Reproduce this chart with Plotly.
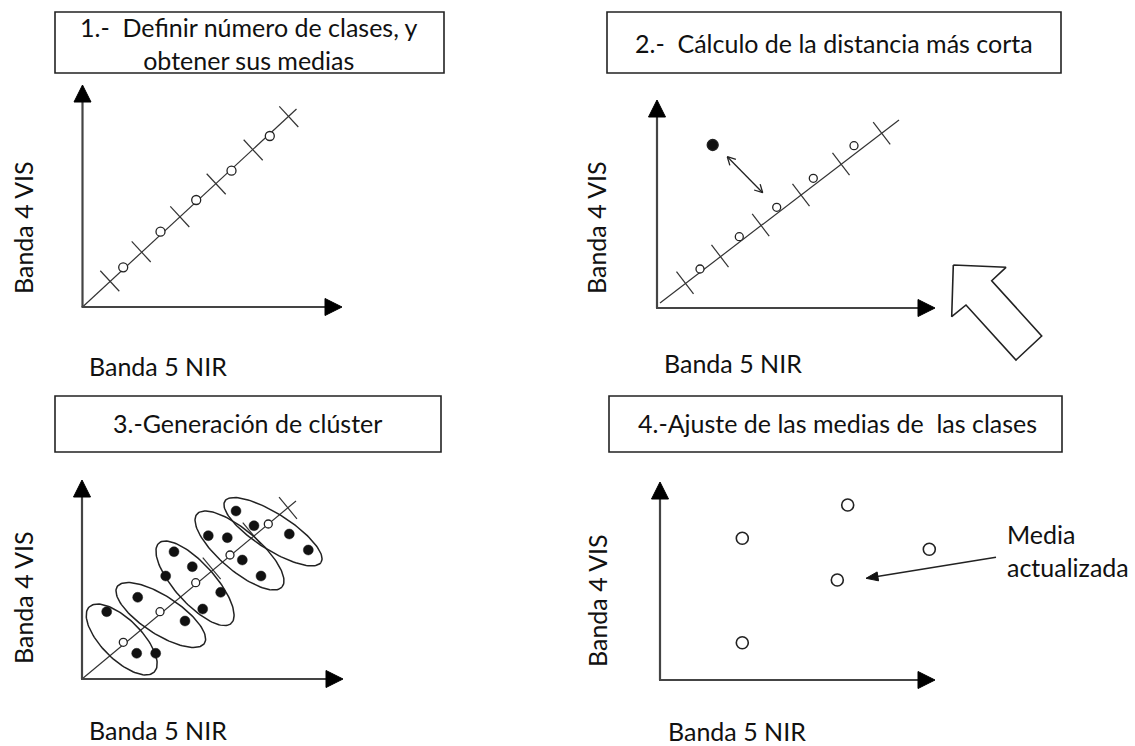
import math
import plotly.graph_objects as go

# ---------------- data (local units: x right, y up, measured from each panel's axis origin) ----
# Panel 1: diagonal, class boundaries (crosses) and class means (o)
p1_line_x = [0.0, 214.0]
p1_line_y = [0.0, 198.0]
p1_bound_x = [27.3, 58.7, 97.3, 133.7, 170.7, 206.3]
p1_bound_y = [26.0, 55.3, 90.3, 123.0, 157.0, 190.3]
p1_mean_x = [40.7, 78.0, 113.7, 149.0, 187.3]
p1_mean_y = [39.7, 75.3, 107.0, 136.3, 171.0]

# Panel 2: same, plus a pixel and its shortest distance
p2_line_x = [3.0, 242.0]
p2_line_y = [5.0, 188.0]
p2_bound_x = [28.0, 63.0, 103.7, 144.0, 184.0, 224.7]
p2_bound_y = [25.3, 52.0, 83.0, 113.0, 144.0, 174.7]
p2_mean_x = [43.0, 82.3, 119.7, 156.3, 197.0]
p2_mean_y = [39.0, 71.3, 100.7, 129.7, 162.3]
p2_pixel_x = [55.7]
p2_pixel_y = [163.0]
p2_dist_x = [70.3, 105.7]
p2_dist_y = [151.3, 115.3]
p2_bigarrow_x = [296.3, 349.0, 334.7, 384.7, 359.0, 309.0, 294.7, 296.3]
p2_bigarrow_y = [43.0, 40.7, 27.3, -28.0, -52.0, 3.0, -8.7, 43.0]

# Panel 3: clusters
p3_line_x = [0.0, 214.0]
p3_line_y = [0.0, 178.0]
p3_bound_x = [129.7, 169.7, 206.0]
p3_bound_y = [110.7, 145.7, 171.0]
p3_mean_x = [41.3, 78.0, 113.7, 148.0, 186.3]
p3_mean_y = [36.7, 67.3, 96.3, 124.0, 155.0]
p3_pix_x = [24.7, 55.7, 54.7, 73.7, 92.0, 110.3, 83.7, 138.7, 120.7, 103.0,
            126.3, 145.3, 172.0, 154.0, 207.3, 226.3, 160.3, 179.0]
p3_pix_y = [67.3, 81.7, 25.7, 25.7, 127.3, 112.3, 103.0, 86.7, 70.0, 58.0,
            143.3, 141.3, 153.3, 168.0, 145.0, 129.0, 119.0, 103.0]
p3_clu_cx = [39.7, 78.8, 113.0, 157.5, 191.0]
p3_clu_cy = [39.5, 64.0, 95.7, 128.5, 147.3]
p3_clu_a = [46.0, 52.0, 54.0, 56.0, 57.0]
p3_clu_b = [20.0, 19.0, 20.0, 20.0, 18.0]
p3_clu_ang = [-45.0, -33.0, -48.0, -40.6, -32.5]

# Panel 4: updated means
p4_mean_x = [82.3, 187.7, 269.3, 177.3, 82.3]
p4_mean_y = [141.7, 175.0, 130.7, 100.0, 37.3]
p4_note_x = [336.0, 206.0]
p4_note_y = [122.7, 101.7]

# ---------------- layout constants ----------------
W, H = 1135, 746
FONT = "Lato"
TXT = "#111111"
LINE = "#333333"
origins = {1: (82.5, 307.0), 2: (657.0, 308.0), 3: (82.0, 679.0), 4: (660.0, 680.0)}
axis_len = {1: (259.5, 222.0), 2: (278.0, 208.0), 3: (261.0, 199.0), 4: (275.0, 198.0)}


def to_scr(p, xs, ys):
    ox, oy = origins[p]
    X = [None if x is None else ox + x for x in xs]
    Y = [None if y is None else oy - y for y in ys]
    return X, Y


fig = go.Figure()
shapes = []
annotations = []


def add_line(p, xs, ys, color=LINE, width=1.2, fill=None, fillcolor=None):
    X, Y = to_scr(p, xs, ys)
    fig.add_trace(go.Scatter(x=X, y=Y, mode="lines", line=dict(color=color, width=width),
                             fill=fill, fillcolor=fillcolor, hoverinfo="skip"))


def add_markers(p, xs, ys, size, filled, lw=1.3):
    X, Y = to_scr(p, xs, ys)
    fig.add_trace(go.Scatter(
        x=X, y=Y, mode="markers", hoverinfo="skip",
        marker=dict(symbol="circle", size=size,
                    color="#111111" if filled else "white",
                    line=dict(color="#222222", width=lw))))


def add_ticks(p, lx, ly, bx, by, half=14.0):
    dx, dy = lx[1] - lx[0], ly[1] - ly[0]
    n = math.hypot(dx, dy)
    px, py = -dy / n, dx / n
    xs, ys = [], []
    for cx, cy in zip(bx, by):
        xs += [cx - px * half, cx + px * half, None]
        ys += [cy - py * half, cy + py * half, None]
    add_line(p, xs, ys, width=1.2)


def axis_arrows(p):
    ox, oy = origins[p]
    lx, ly = axis_len[p]
    hl, hw = 17.0, 8.5
    shapes.append(dict(type="line", xref="x", yref="y", x0=ox, y0=oy, x1=ox, y1=oy - ly + hl - 1,
                       line=dict(color="#444444", width=2.2)))
    shapes.append(dict(type="line", xref="x", yref="y", x0=ox - 1, y0=oy, x1=ox + lx - hl + 1, y1=oy,
                       line=dict(color="#444444", width=2.2)))
    ty = oy - ly
    shapes.append(dict(type="path", xref="x", yref="y",
                       path=f"M {ox} {ty} L {ox - hw} {ty + hl} L {ox + hw} {ty + hl} Z",
                       fillcolor="black", line=dict(color="black", width=1)))
    tx = ox + lx
    shapes.append(dict(type="path", xref="x", yref="y",
                       path=f"M {tx} {oy} L {tx - hl} {oy - hw} L {tx - hl} {oy + hw} Z",
                       fillcolor="black", line=dict(color="black", width=1)))


def open_head(p, x0, y0, x1, y1, L=9.0, ang=28.0):
    # V-shaped head at (x1, y1) for a segment coming from (x0, y0)
    a = math.atan2(y1 - y0, x1 - x0)
    xs, ys = [], []
    for s in (1, -1):
        b = a + math.pi - s * math.radians(ang)
        xs += [x1 + L * math.cos(b), x1, None]
        ys += [y1 + L * math.sin(b), y1, None]
    add_line(p, xs, ys, color="#222222", width=1.3)


# ---- panel 1
axis_arrows(1)
add_line(1, p1_line_x, p1_line_y)
add_ticks(1, p1_line_x, p1_line_y, p1_bound_x, p1_bound_y)
add_markers(1, p1_mean_x, p1_mean_y, 9, False)

# ---- panel 2
axis_arrows(2)
add_line(2, p2_line_x, p2_line_y)
add_ticks(2, p2_line_x, p2_line_y, p2_bound_x, p2_bound_y)
add_markers(2, p2_mean_x, p2_mean_y, 8, False)
add_markers(2, p2_pixel_x, p2_pixel_y, 11, True)
add_line(2, p2_dist_x, p2_dist_y, color="#222222", width=1.3)
open_head(2, p2_dist_x[1], p2_dist_y[1], p2_dist_x[0], p2_dist_y[0])
open_head(2, p2_dist_x[0], p2_dist_y[0], p2_dist_x[1], p2_dist_y[1])
add_line(2, p2_bigarrow_x, p2_bigarrow_y, color="#222222", width=1.6, fill="toself", fillcolor="white")

# ---- panel 3
axis_arrows(3)
add_line(3, p3_line_x, p3_line_y)
add_ticks(3, p3_line_x, p3_line_y, p3_bound_x, p3_bound_y)
for cx, cy, a, b, ang in zip(p3_clu_cx, p3_clu_cy, p3_clu_a, p3_clu_b, p3_clu_ang):
    r = math.radians(ang)
    ex, ey = [], []
    for k in range(121):
        t = 2 * math.pi * k / 120
        u, v = a * math.cos(t), b * math.sin(t)
        ex.append(cx + u * math.cos(r) - v * math.sin(r))
        ey.append(cy + u * math.sin(r) + v * math.cos(r))
    add_line(3, ex, ey, color="#222222", width=1.5)
add_markers(3, p3_pix_x, p3_pix_y, 10, True, lw=0.5)
add_markers(3, p3_mean_x, p3_mean_y, 8, False)

# ---- panel 4
axis_arrows(4)
add_markers(4, p4_mean_x, p4_mean_y, 12, False, lw=1.6)
add_line(4, [p4_note_x[0], p4_note_x[1] + 8], [p4_note_y[0], p4_note_y[1] + 8 * (p4_note_y[0] - p4_note_y[1]) / (p4_note_x[0] - p4_note_x[1])],
         color="#222222", width=1.4)
# filled arrow head
X, Y = to_scr(4, p4_note_x, p4_note_y)
ang = math.atan2(Y[1] - Y[0], X[1] - X[0])
hl, hw = 12.0, 4.5
bx, by = X[1] - hl * math.cos(ang), Y[1] - hl * math.sin(ang)
nx, ny = -math.sin(ang), math.cos(ang)
shapes.append(dict(type="path", xref="x", yref="y",
                   path=f"M {X[1]} {Y[1]} L {bx + nx * hw} {by + ny * hw} L {bx - nx * hw} {by - ny * hw} Z",
                   fillcolor="#111111", line=dict(color="#111111", width=1)))

# ---------------- boxes & text ----------------
boxes = [(55, 12, 444, 73), (607, 12, 1061, 73), (55, 396, 441, 452), (609, 396, 1062, 452)]
for x0, y0, x1, y1 in boxes:
    shapes.append(dict(type="rect", xref="x", yref="y", x0=x0, y0=y0, x1=x1, y1=y1,
                       line=dict(color="#222222", width=1.6), fillcolor="rgba(0,0,0,0)"))

NB = "\u00a0"
titles = [
    (249, 43, f"1.-{NB} Definir número de clases, y<br>obtener sus medias"),
    (834, 43, f"2.-{NB} Cálculo de la distancia más corta"),
    (247, 423, "3.-Generación de clúster"),
    (837, 423, f"4.-Ajuste de las medias de{NB} las clases"),
]
FS = 25
for x, y, t in titles:
    annotations.append(dict(x=x, y=y, xref="x", yref="y", text=t, showarrow=False,
                            font=dict(family=FONT, size=FS, color=TXT), align="center",
                            xanchor="center", yanchor="middle"))

ylabels = [(23, 228), (596, 228), (23, 598), (597, 601)]
for x, y in ylabels:
    annotations.append(dict(x=x, y=y, xref="x", yref="y", text="Banda 4 VIS", showarrow=False,
                            textangle=-90, font=dict(family=FONT, size=FS, color=TXT),
                            xanchor="center", yanchor="middle"))
xlabels = [(157.5, 366), (733, 363), (157.5, 730), (737, 731)]
for x, y in xlabels:
    annotations.append(dict(x=x, y=y, xref="x", yref="y", text="Banda 5 NIR", showarrow=False,
                            font=dict(family=FONT, size=FS, color=TXT),
                            xanchor="center", yanchor="middle"))

annotations.append(dict(x=1005, y=550, xref="x", yref="y", text="Media<br>actualizada",
                        showarrow=False, align="left", xanchor="left", yanchor="middle",
                        font=dict(family=FONT, size=FS, color=TXT)))

fig.update_layout(
    width=W, height=H, margin=dict(l=0, r=0, t=0, b=0),
    paper_bgcolor="white", plot_bgcolor="white", showlegend=False,
    xaxis=dict(range=[0, W], visible=False, fixedrange=True),
    yaxis=dict(range=[H, 0], visible=False, fixedrange=True),
    shapes=shapes, annotations=annotations,
)

fig.write_html("out.html", config={"displayModeBar": False},
               post_script="document.body.style.margin='0';document.body.style.overflow='hidden';")
